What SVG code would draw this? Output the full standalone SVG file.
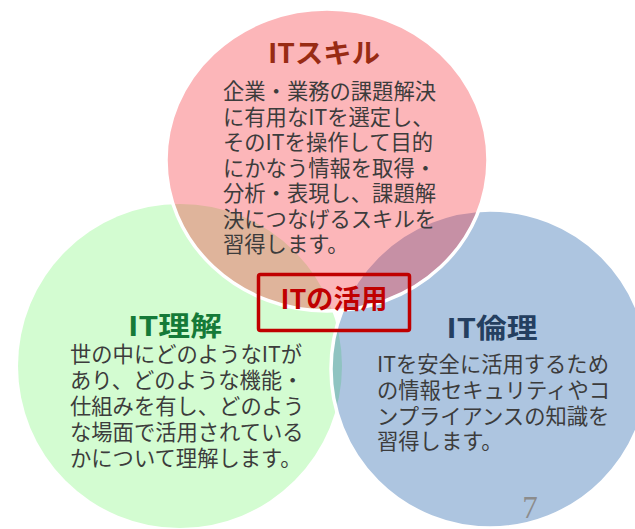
<svg xmlns="http://www.w3.org/2000/svg" width="635" height="529" viewBox="0 0 635 529">
  <style>
    .body { font-family: "Noto Sans CJK JP", "Noto Sans", sans-serif; font-size: 21.3px; fill: #3c3c3c; }
    .title { font-family: "Noto Sans CJK JP", "Noto Sans", sans-serif; font-size: 27px; font-weight: bold; text-anchor: middle; }
    .ring { stroke: #ffffff; stroke-width: 3.5; }
  </style>
  <rect width="635" height="529" fill="#ffffff"/>
  <g id="shapes">
    <circle cx="180" cy="366" r="162" fill="#D3FCD1"/>
    <circle class="ring" cx="490" cy="369" r="159" fill="#004A9E" fill-opacity="0.32"/>
    <ellipse class="ring" cx="327" cy="160" rx="161" ry="151" fill="#F62E37" fill-opacity="0.35"/>
  </g>
  <g id="node-it-skill">
    <text class="title" x="324" y="63" fill="#982B14" textLength="112" lengthAdjust="spacingAndGlyphs">ITスキル</text>
    <text class="body">
      <tspan x="223" y="99">企業・業務の課題解決</tspan>
      <tspan x="223" y="124.5">に有用なITを選定し、</tspan>
      <tspan x="223" y="150">そのITを操作して目的</tspan>
      <tspan x="223" y="175.5">にかなう情報を取得・</tspan>
      <tspan x="223" y="201">分析・表現し、課題解</tspan>
      <tspan x="223" y="226.5">決につなげるスキルを</tspan>
      <tspan x="223" y="252">習得します。</tspan>
    </text>
  </g>
  <g id="node-it-understanding">
    <text class="title" x="175" y="336" fill="#157A38" textLength="94" lengthAdjust="spacingAndGlyphs">IT理解</text>
    <text class="body">
      <tspan x="70" y="362">世の中にどのようなITが</tspan>
      <tspan x="70" y="388">あり、どのような機能・</tspan>
      <tspan x="70" y="414">仕組みを有し、どのよう</tspan>
      <tspan x="70" y="440">な場面で活用されている</tspan>
      <tspan x="70" y="466">かについて理解します。</tspan>
    </text>
  </g>
  <g id="node-it-ethics">
    <text class="title" x="492" y="338" fill="#243F60" textLength="91" lengthAdjust="spacingAndGlyphs">IT倫理</text>
    <text class="body">
      <tspan x="377" y="372">ITを安全に活用するため</tspan>
      <tspan x="377" y="398">の情報セキュリティやコ</tspan>
      <tspan x="377" y="423.5">ンプライアンスの知識を</tspan>
      <tspan x="377" y="449">習得します。</tspan>
    </text>
  </g>
  <g id="node-it-use">
    <rect x="258.5" y="274.5" width="151" height="56" rx="2" fill="none" stroke="#C00000" stroke-width="3.5"/>
    <text class="title" x="334" y="309" fill="#C00000" textLength="107" lengthAdjust="spacingAndGlyphs">ITの活用</text>
  </g>
  <g id="page-number">
    <text x="530" y="518" text-anchor="middle" font-family="Liberation Serif, serif" font-size="31" fill="#8C8C8C">7</text>
  </g>
</svg>
